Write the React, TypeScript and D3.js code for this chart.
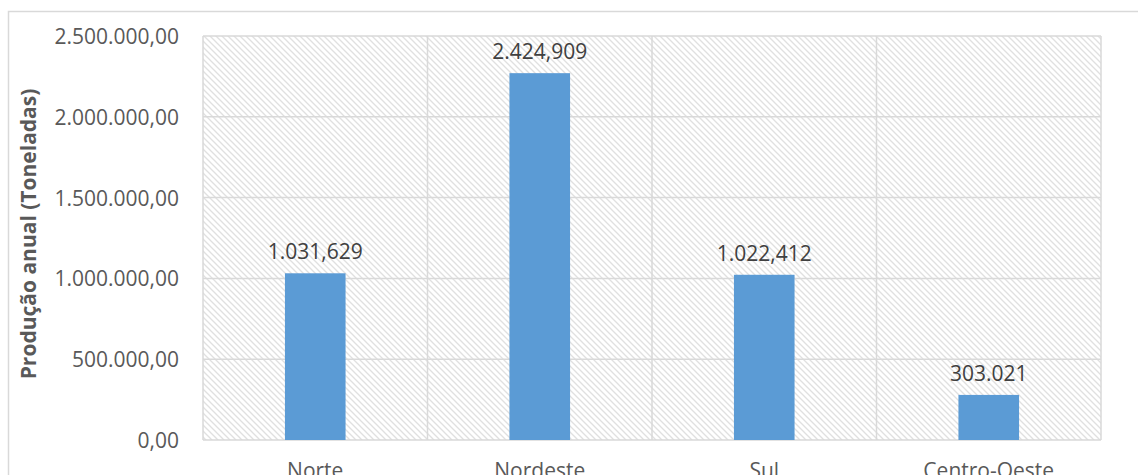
import React from "react";
import * as d3 from "d3";

const categories = ["Norte", "Nordeste", "Sul", "Centro-Oeste"];
const values = [1031629, 2270000, 1022412, 279000];
const valueLabels = ["1.031,629", "2.424,909", "1.022,412", "303.021"];
const yTicks = [0, 500000, 1000000, 1500000, 2000000, 2500000];
const yTitle = "Produção anual (Toneladas)";

const fmtTick = (v: number) => {
  const s = d3.format(",.2f")(v);
  return s.replace(/,/g, "#").replace(".", ",").replace(/#/g, ".");
};

export default function App() {
  const W = 1138, H = 475;
  const left = 203, right = 1101, top = 36, bottom = 440;
  const x = d3.scaleBand<string>().domain(categories).range([left, right]).padding(0);
  const y = d3.scaleLinear().domain([0, 2500000]).range([bottom, top]);
  const bw = x.bandwidth() * 0.27;
  const font = "'Open Sans', 'Noto Sans', sans-serif";
  return (
    <svg width={W} height={H} style={{ position: "absolute", left: 0, top: 0, background: "#fff" }}>
      <defs>
        <pattern id="hatch" width="6" height="6" patternUnits="userSpaceOnUse">
          <rect width="6" height="6" fill="#ffffff" />
          <path d="M-1,-1 L7,7 M-1,5 L1,7 M5,-1 L7,1" stroke="#e0e0e0" strokeWidth="1.3" />
        </pattern>
      </defs>
      <rect x={8.5} y={11.5} width={W + 20} height={H + 20} fill="#fff" stroke="#d9d9d9" strokeWidth={1.5} />
      <rect x={left} y={top} width={right - left} height={bottom - top} fill="url(#hatch)" />
      {yTicks.map((t) => (
        <line key={"g" + t} x1={left} x2={right} y1={y(t)} y2={y(t)} stroke="#d9d9d9" strokeWidth={1.5} />
      ))}
      {categories.map((c) => (
        <line key={"v" + c} x1={x(c)!} x2={x(c)!} y1={top} y2={bottom} stroke="#d9d9d9" strokeWidth={1.5} />
      ))}
      <line x1={right} x2={right} y1={top} y2={bottom} stroke="#d9d9d9" strokeWidth={1.5} />
      {categories.map((c, i) => {
        const cx = x(c)! + x.bandwidth() / 2;
        return (
          <g key={c}>
            <rect x={cx - bw / 2} y={y(values[i])} width={bw} height={bottom - y(values[i])} fill="#5B9BD5" />
            <text x={cx} y={y(values[i]) - 22} textAnchor="middle" dominantBaseline="central" fontFamily={font} fontSize={21} fill="#404040">
              {valueLabels[i]}
            </text>
            <text x={cx} y={478} textAnchor="middle" fontFamily={font} fontSize={21} fill="#595959">
              {c}
            </text>
          </g>
        );
      })}
      {yTicks.map((t) => (
        <text key={"t" + t} x={179} y={y(t)} textAnchor="end" dominantBaseline="central" fontFamily={font} fontSize={21} fill="#595959">
          {fmtTick(t)}
        </text>
      ))}
      <text transform={`translate(28,234) rotate(-90)`} textAnchor="middle" dominantBaseline="central" fontFamily={font} fontSize={21} fontWeight="bold" fill="#595959">
        {yTitle}
      </text>
    </svg>
  );
}
